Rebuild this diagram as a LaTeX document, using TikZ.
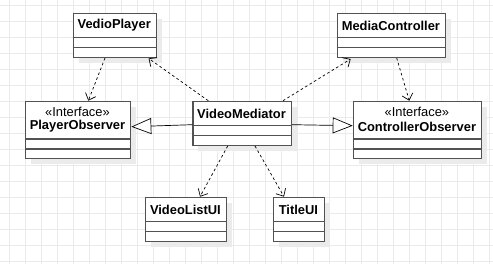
\documentclass[tikz,border=0pt]{standalone}
\usepackage{fontspec}
\setmainfont{Liberation Sans}
\usetikzlibrary{arrows.meta,calc,positioning}

\tikzset{
  classbox/.style={draw=black!68, line width=1.3pt, fill=white, inner sep=0pt,
    anchor=north west},
  shadowbox/.style={fill=black!8, draw=none},
  sepline/.style={draw=black!68, line width=1.3pt},
  title/.style={font=\fontsize{12.9}{15}\selectfont\bfseries, inner sep=0pt},
  stereo/.style={font=\fontsize{12.9}{15}\selectfont, inner sep=0pt},
  depend/.style={draw=black, line width=0.7pt, dash pattern=on 2.6pt off 2.6pt,
    -{Straight Barb[length=6pt,width=11pt,line width=0.7pt]}},
  realize/.style={draw=black, line width=0.7pt,
    -{Triangle[open,length=20pt,width=16pt,line width=0.7pt,fill=white]}},
  gridline/.style={draw=black!8, line width=0.9pt}
}

% \umlclass{name}{x1}{y1}{x2}{y2}{first separator y}{second separator y}
\newcommand{\umlclass}[7]{%
  \fill[shadowbox] (#2+6,#3+6) rectangle (#4+6,#5+6);
  \node[classbox, minimum width=#4-#2, minimum height=#5-#3] (#1) at (#2,#3) {};
  \draw[sepline] (#1.west |- 0,#6) -- (#1.east |- 0,#6);
  \draw[sepline] (#1.west |- 0,#7) -- (#1.east |- 0,#7);
}

\begin{document}
\begin{tikzpicture}[x=1pt,y=-1pt]
  \useasboundingbox (0,0) rectangle (493,264);
  \fill[white] (0,0) rectangle (493,264);

  % background grid
  \foreach \gx in {9.3,25.3,...,493} \draw[gridline] (\gx,0) -- (\gx,264);
  \foreach \gy in {5.3,21.3,...,264} \draw[gridline] (0,\gy) -- (493,\gy);

  % classes
  \umlclass{vp}{72.7}{12.7}{155.7}{56.7}{37.7}{47.7}
  \node[title] (vpT) at (114.2,25.4) {VedioPlayer};

  \umlclass{mc}{336.7}{12.7}{445}{56.7}{37.7}{47.7}
  \node[title] (mcT) at (390.9,25.4) {MediaController};

  \umlclass{po}{25}{100.7}{130}{157.7}{139}{149}
  \node[stereo] (poS) at (77.5,112) {«Interface»};
  \node[title] (poT) at (77.5,126.6) {PlayerObserver};

  \umlclass{med}{192.3}{100.7}{290.7}{144.7}{125.7}{135.7}
  \node[title] (medT) at (241.5,113.4) {VideoMediator};

  \umlclass{co}{352.7}{100.7}{481}{157.7}{139}{149}
  \node[stereo] (coS) at (416.9,112) {«Interface»};
  \node[title] (coT) at (416.9,126.6) {ControllerObserver};

  \umlclass{vl}{145}{196.7}{225.7}{240.7}{221.7}{231.7}
  \node[title] (vlT) at (185.4,209.4) {VideoListUI};

  \umlclass{tu}{272.7}{196.7}{324}{240.7}{221.7}{231.7}
  \node[title] (tuT) at (298.4,209.4) {TitleUI};

  % dependencies
  \draw[depend] ($(med.north west)+(16,0)$) -- ($(vp.south east)+(-8.4,0.4)$);
  \draw[depend] ($(med.north east)+(-9,0)$) -- ($(mc.south west)+(14,1)$);
  \draw[depend] ($(vp.south west)+(32.3,0)$) -- ($(po.north west)+(63.3,0)$);
  \draw[depend] ($(mc.south west)+(60,0)$) -- ($(co.north west)+(56.6,0)$);
  \draw[depend] ($(med.south west)+(35.4,0)$) -- ($(vl.north west)+(55,0)$);
  \draw[depend] ($(med.south west)+(62.7,0)$) -- ($(tu.north west)+(11.3,0)$);

  % realizations
  \draw[realize] ($(med.north west)+(0,24)$) -- ($(po.north east)+(0,26)$);
  \draw[realize] ($(med.north east)+(0,24)$) -- ($(co.north west)+(0,25)$);
\end{tikzpicture}
\end{document}
